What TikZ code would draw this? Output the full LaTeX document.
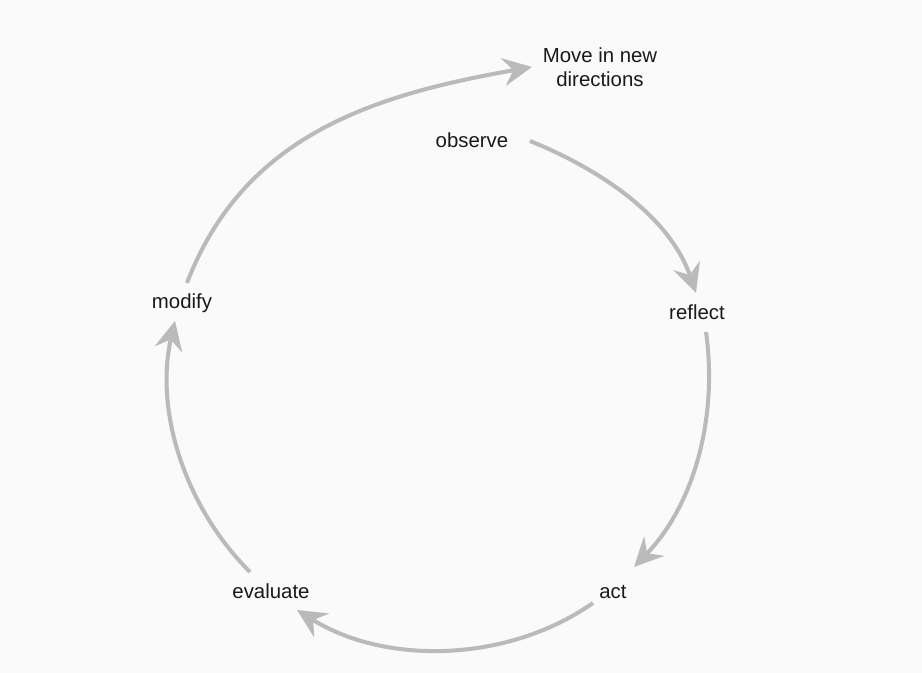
\documentclass[tikz,border=0pt]{standalone}
\usepackage{fontspec}
\setmainfont{Liberation Sans}
\usepackage{tikz}
\usetikzlibrary{arrows.meta,positioning,calc}

\begin{document}
\begin{tikzpicture}[
  stage/.style={inner sep=0pt, align=center, text=black!90, font=\fontsize{11.6}{13.6}\selectfont},
  arrow/.style={-{Stealth[length=5.8mm, width=5.6mm, inset=2mm]}, line width=2.3pt, draw=black!27, looseness=0.9}
]
  \useasboundingbox[fill=black!2] (-8.8,-5.84) rectangle (9.64,7.62);

  % Nodes
  \node[stage] (move) at (3.20,6.28) {Move in new\\directions};
  \node[stage] (observe) at (0.64,4.82) {observe};
  \node[stage] (reflect) at (5.14,1.38) {reflect};
  \node[stage] (act) at (3.46,-4.22) {act};
  \node[stage] (evaluate) at (-3.38,-4.20) {evaluate};
  \node[stage] (modify) at (-5.16,1.56) {modify};

  % Arrows
  \draw[arrow] ([shift={(1.16,-0.02)}]observe.center) to[out=-22, in=109] ([shift={(-0.02,0.38)}]reflect.center);
  \draw[arrow] ([shift={(0.18,-0.40)}]reflect.center) to[out=-82, in=46] ([shift={(0.42,0.50)}]act.center);
  \draw[arrow] ([shift={(-0.40,-0.22)}]act.center) to[out=-145, in=-32] ([shift={(0.52,-0.38)}]evaluate.center);
  \draw[arrow] ([shift={(-0.42,0.38)}]evaluate.center) to[out=135, in=-103] ([shift={(-0.14,-0.36)}]modify.center);
  \draw[arrow, looseness=1] ([shift={(0.10,0.40)}]modify.center) to[out=69, in=190] ([shift={(-1.36,0)}]move.center);
\end{tikzpicture}
\end{document}
